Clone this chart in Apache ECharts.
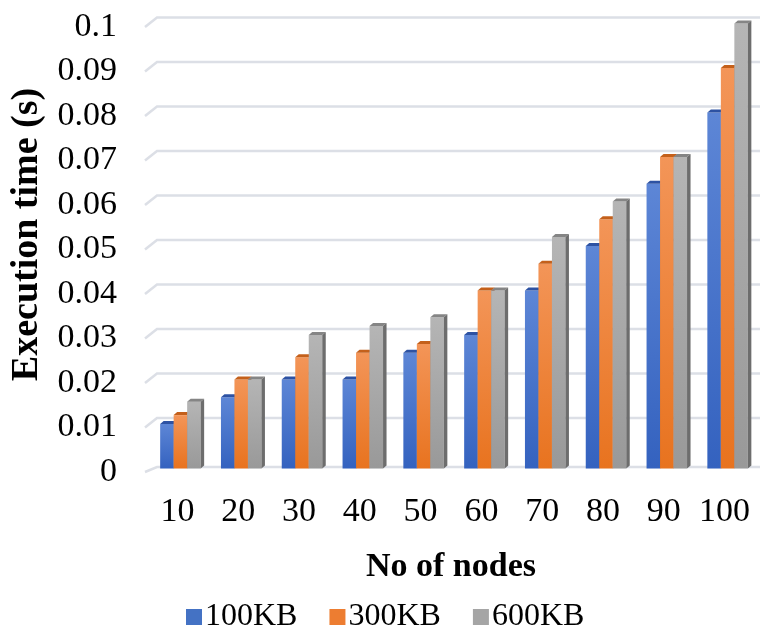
<!DOCTYPE html>
<html>
<head>
<meta charset="utf-8">
<title>Execution time by number of nodes</title>
<script src="https://cdn.jsdelivr.net/npm/echarts@6/dist/echarts.min.js"></script>
<style>
  html, body { margin: 0; padding: 0; background: #ffffff; }
  #chart { width: 760px; height: 638px; }
</style>
</head>
<body>
<div id="chart"></div>
<script>
// Number of nodes on the x axis
const nodeCounts = ['10', '20', '30', '40', '50', '60', '70', '80', '90', '100'];

// Execution time (s) for each payload size
const time100KB = [0.010, 0.016, 0.020, 0.020, 0.026, 0.030, 0.040, 0.050, 0.064, 0.080];
const time300KB = [0.012, 0.020, 0.025, 0.026, 0.028, 0.040, 0.046, 0.056, 0.070, 0.090];
const time600KB = [0.015, 0.020, 0.030, 0.032, 0.034, 0.040, 0.052, 0.060, 0.070, 0.100];

const seriesNames = ['100KB', '300KB', '600KB'];

// Value-axis gridline positions
const yTicks = [0, 0.01, 0.02, 0.03, 0.04, 0.05, 0.06, 0.07, 0.08, 0.09, 0.1];

const FONT = "'Liberation Serif', 'Times New Roman', serif";

// Shading for the pseudo-3D columns: front gradient, top face, right side face
const palettes = [
  { solid: '#4472c4', front: ['#5d86d6', '#3462bf'], top: '#2d52a3', side: '#26468f' },
  { solid: '#ed7d31', front: ['#f39558', '#e8731f'], top: '#c4601b', side: '#b0541a' },
  { solid: '#a5a5a5', front: ['#b5b5b5', '#999999'], top: '#858585', side: '#6d6d6d' }
];

const BAR_FRACTION = 0.222; // width of one column as a share of the category band
const GROUP_SHIFT = 3;      // columns sit slightly right of the category centre
const DEPTH_DX = 3.5, DEPTH_DY = 3;   // column depth
const MID_DEPTH = 3.5;                // columns stand halfway back from the front plane

function columnRenderer(seriesIndex) {
  const pal = palettes[seriesIndex];
  return function (params, api) {
    const cat = api.value(0);
    const v = api.value(1);
    const top = api.coord([cat, v]);
    const base = api.coord([cat, 0]);
    const band = api.size([1, 0])[0];
    const w = band * BAR_FRACTION;
    const cx = top[0] + GROUP_SHIFT + (seriesIndex - 1) * w;
    const x0 = cx - w / 2, x1 = cx + w / 2;
    const yT = top[1] - MID_DEPTH, yB = base[1] - MID_DEPTH;
    return {
      type: 'group',
      children: [
        {
          type: 'rect',
          shape: { x: x0, y: yT, width: w, height: yB - yT },
          style: {
            fill: new echarts.graphic.LinearGradient(0, 0, 0, 1, [
              { offset: 0, color: pal.front[0] },
              { offset: 1, color: pal.front[1] }
            ])
          }
        },
        {
          type: 'polygon',
          shape: { points: [[x0, yT], [x1, yT], [x1 + DEPTH_DX, yT - DEPTH_DY], [x0 + DEPTH_DX, yT - DEPTH_DY]] },
          style: { fill: pal.top }
        },
        {
          type: 'polygon',
          shape: { points: [[x1, yT], [x1 + DEPTH_DX, yT - DEPTH_DY], [x1 + DEPTH_DX, yB - DEPTH_DY], [x1, yB]] },
          style: { fill: pal.side }
        }
      ]
    };
  };
}

// Back-wall gridlines with a short slanted stub on the side wall
function gridlineRenderer(params, api) {
  const v = api.value(1);
  const p = api.coord([0, v]);
  const cs = params.coordSys;
  const rise = v === 0 ? 5 : 9.5;
  const xFront = cs.x - 2;
  const xBack = cs.x + 10;
  return {
    type: 'polyline',
    shape: { points: [[xFront, p[1]], [xBack, p[1] - rise], [760, p[1] - rise]] },
    style: { stroke: '#dcdfe6', lineWidth: 2.5, fill: null }
  };
}

const seriesData = [time100KB, time300KB, time600KB];

const chart = echarts.init(document.getElementById('chart'), null, { renderer: 'canvas' });

chart.setOption({
  animation: false,
  backgroundColor: '#ffffff',
  textStyle: { fontFamily: FONT },
  grid: { left: 147, width: 608, top: 27, bottom: 166, containLabel: false },
  legend: {
    data: seriesNames,
    left: 181,
    top: 596,
    icon: 'rect',
    itemWidth: 16,
    itemHeight: 16,
    itemGap: 32,
    textStyle: { fontFamily: FONT, fontSize: 32, color: '#000000', padding: [0, 0, 0, -2] }
  },
  xAxis: {
    type: 'category',
    data: nodeCounts,
    name: 'No of nodes',
    nameLocation: 'middle',
    nameGap: 78,
    nameTextStyle: { fontFamily: FONT, fontSize: 34, fontWeight: 'bold', color: '#000000' },
    axisLine: { show: false },
    axisTick: { show: false },
    axisLabel: { interval: 0, hideOverlap: false, fontFamily: FONT, fontSize: 34, color: '#000000', margin: 23 },
    splitLine: { show: false }
  },
  yAxis: {
    type: 'value',
    min: 0,
    max: 0.1,
    interval: 0.01,
    name: 'Execution time (s)',
    nameLocation: 'middle',
    nameGap: 99,
    nameTextStyle: { fontFamily: FONT, fontSize: 38, fontWeight: 'bold', color: '#000000', padding: [0, 0, 0, 30] },
    axisLine: { show: false },
    axisTick: { show: false },
    splitLine: { show: false },
    axisLabel: {
      fontFamily: FONT,
      fontSize: 34,
      color: '#000000',
      margin: 30,
      padding: [5, 0, 0, 0],
      formatter: function (val) { return String(parseFloat(val.toFixed(2))); }
    }
  },
  series: [
    {
      type: 'custom',
      name: 'gridlines',
      silent: true,
      z: 1,
      renderItem: gridlineRenderer,
      data: yTicks.map(function (t) { return [0, t]; })
    }
  ].concat(seriesData.map(function (vals, i) {
    return {
      type: 'custom',
      name: seriesNames[i],
      z: 2,
      itemStyle: { color: palettes[i].solid },
      renderItem: columnRenderer(i),
      encode: { x: 0, y: 1 },
      data: vals.map(function (v, k) { return [k, v]; })
    };
  }))
});
</script>
</body>
</html>
